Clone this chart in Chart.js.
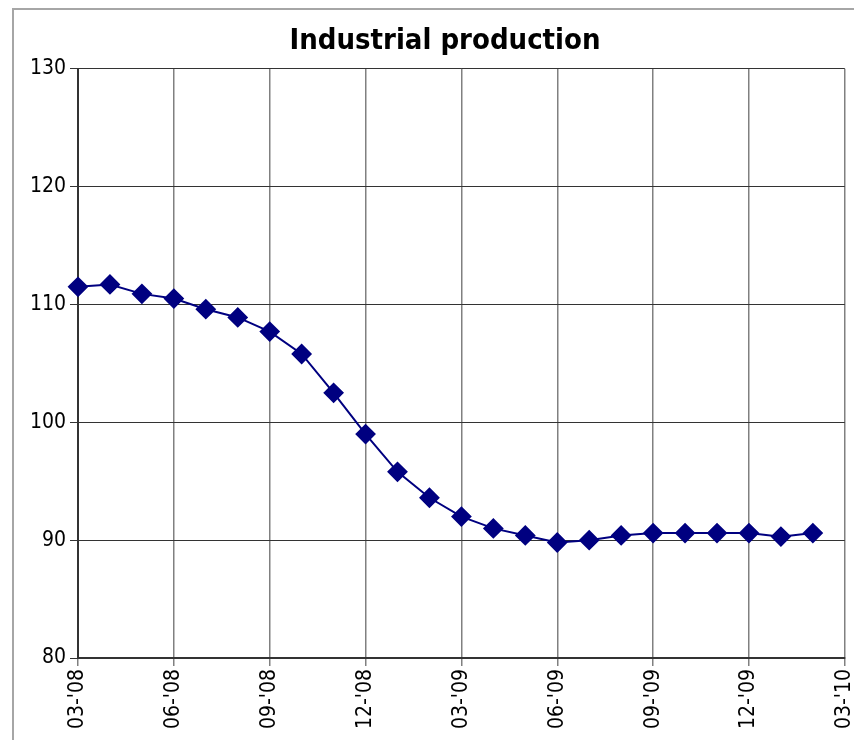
<!DOCTYPE html>
<html>
<head>
<meta charset="utf-8">
<script src="https://cdn.jsdelivr.net/npm/chart.js@4.4.1/dist/chart.umd.min.js"></script>
<style>
html, body { margin: 0; padding: 0; background: #fff; overflow: hidden; }
#frame { position: absolute; left: 12px; top: 8px; width: 900px; height: 800px;
         border-left: 2px solid #a6a6a6; border-top: 2px solid #a6a6a6; }
#ipChart { position: absolute; left: 0; top: 0; }
</style>
</head>
<body>
<div id="frame"></div>
<canvas id="ipChart" width="873" height="740"></canvas>
<script>
// monthly axis, one label per month, only every 3rd one is shown
var months = ["03-'08", "04-'08", "05-'08", "06-'08", "07-'08", "08-'08", "09-'08", "10-'08",
              "11-'08", "12-'08", "01-'09", "02-'09", "03-'09", "04-'09", "05-'09", "06-'09",
              "07-'09", "08-'09", "09-'09", "10-'09", "11-'09", "12-'09", "01-'10", "02-'10", "03-'10"];
var production = [111.5, 111.7, 110.9, 110.5, 109.6, 108.9, 107.7, 105.8, 102.5, 99.0, 95.8, 93.6,
                  92.0, 91.0, 90.4, 89.8, 90.0, 90.4, 90.6, 90.6, 90.6, 90.6, 90.3, 90.6];
var yMin = 80, yMax = 130, yStep = 10;

var font = "'Liberation Sans Narrow', 'Noto Sans Condensed', 'DejaVu Sans Condensed', 'Liberation Sans', sans-serif";

var ctx = document.getElementById('ipChart').getContext('2d');
var chart = new Chart(ctx, {
    type: 'line',
    data: {
        labels: months,
        datasets: [{
            label: 'Industrial production',
            data: production,
            borderColor: '#000080',
            backgroundColor: '#000080',
            borderWidth: 2,
            pointStyle: 'rectRot',
            pointRadius: 9,
            pointHoverRadius: 9,
            tension: 0
        }]
    },
    options: {
        responsive: false,
        animation: false,
        layout: { padding: { left: 17, right: 0, top: 24, bottom: 0 } },
        plugins: {
            legend: { display: false },
            tooltip: { enabled: false },
            title: {
                display: true,
                text: 'Industrial production',
                color: '#000',
                font: { family: font, size: 29, weight: 'bold' },
                padding: { top: 0, bottom: 10 }
            }
        },
        scales: {
            x: {
                offset: false,
                afterFit: function (s) { s.height = 82; },
                grid: {
                    color: function (c) { return c.index % 3 === 0 ? '#808080' : 'rgba(0,0,0,0)'; },
                    lineWidth: 1.5,
                    tickLength: 8
                },
                border: { color: '#333', width: 2 },
                ticks: {
                    autoSkip: false,
                    minRotation: 90,
                    maxRotation: 90,
                    color: '#000',
                    font: { family: font, size: 21 },
                    callback: function (v, i) { return i % 3 === 0 ? months[i] : ''; }
                }
            },
            y: {
                min: yMin,
                max: yMax,
                afterFit: function (s) { s.width = 61; },
                grid: { color: '#333', lineWidth: 1, tickLength: 8 },
                border: { color: '#333', width: 2 },
                ticks: {
                    stepSize: yStep,
                    color: '#000',
                    padding: 4,
                    font: { family: font, size: 21 }
                }
            }
        }
    }
});
</script>
</body>
</html>
